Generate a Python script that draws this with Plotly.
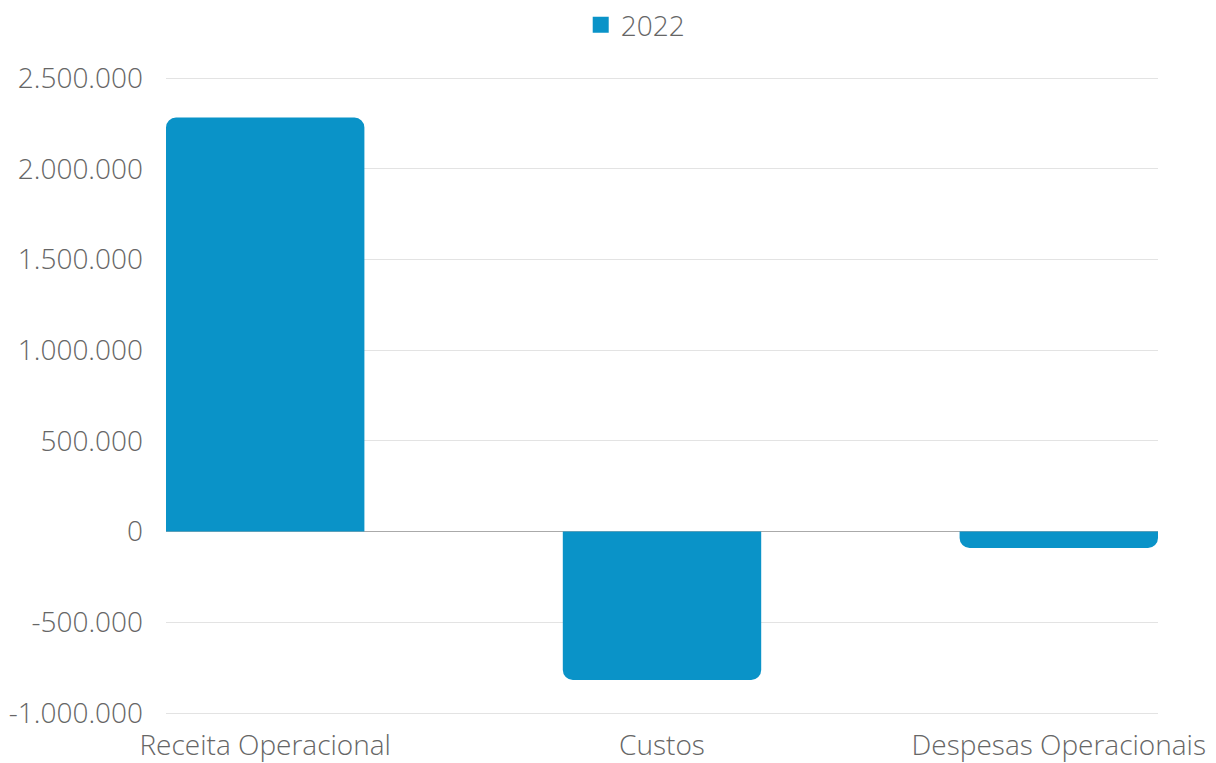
import plotly.graph_objects as go

# Operational results for 2022
categorias = ["Receita Operacional", "Custos", "Despesas Operacionais"]
valores_2022 = [2282000, -818000, -90000]
serie_nome = "2022"

# y-axis ticks (Brazilian thousands separator)
y_ticks = [-1000000, -500000, 0, 500000, 1000000, 1500000, 2000000, 2500000]
y_tick_labels = ["-1.000.000", "-500.000", "0", "500.000", "1.000.000",
                 "1.500.000", "2.000.000", "2.500.000"]

AZUL = "#0a93c8"
TEXTO = "#666666"
FONTE = "Open Sans"
FS = 28

fig = go.Figure()
fig.add_trace(go.Bar(
    x=categorias,
    y=valores_2022,
    name=serie_nome,
    marker=dict(color=AZUL, line=dict(width=0)),
    width=0.5,
    showlegend=False,
))
# legend entry with a square swatch
fig.add_trace(go.Scatter(
    x=[None], y=[None],
    mode="markers",
    name=serie_nome,
    marker=dict(symbol="square", size=16, color=AZUL),
    showlegend=True,
    hoverinfo="skip",
))

fig.update_layout(
    width=1216,
    height=763,
    margin=dict(l=166, r=58, t=76, b=48),
    paper_bgcolor="white",
    plot_bgcolor="white",
    barcornerradius=10,
    font=dict(family=FONTE, size=FS, color=TEXTO, weight=300),
    legend=dict(
        orientation="h",
        x=0.473, xanchor="center",
        y=1.0, yref="container", yanchor="top",
        font=dict(family=FONTE, size=FS, color=TEXTO, weight=300),
        bgcolor="rgba(0,0,0,0)",
        itemsizing="trace",
    ),
    xaxis=dict(
        range=[-0.25, 2.25],
        showgrid=False,
        showline=False,
        zeroline=False,
        ticks="",
        automargin=False,
        ticklabelstandoff=11,
        tickfont=dict(family=FONTE, size=FS, color=TEXTO, weight=300),
    ),
    yaxis=dict(
        range=[-1011000, 2511000],
        tickvals=y_ticks,
        ticktext=y_tick_labels,
        showgrid=True,
        gridcolor="#e3e3e3",
        gridwidth=1,
        zeroline=True,
        zerolinecolor="#aaaaaa",
        zerolinewidth=1,
        showline=False,
        ticks="",
        automargin=False,
        ticklabelstandoff=22,
        tickfont=dict(family=FONTE, size=FS, color=TEXTO, weight=300),
    ),
)

fig.write_html("out.html")
